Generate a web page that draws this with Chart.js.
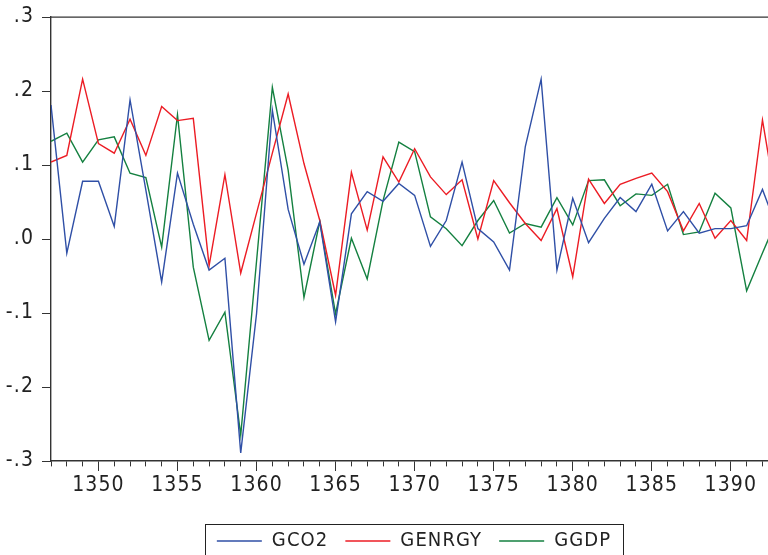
<!DOCTYPE html>
<html>
<head>
<meta charset="utf-8">
<script src="https://cdn.jsdelivr.net/npm/chart.js@4/dist/chart.umd.min.js"></script>
<style>
  body { margin: 0; background: #fff; }
  #wrap { width: 768px; height: 555px; position: relative; }
</style>
</head>
<body>
<div id="wrap"><canvas id="growth-canvas"></canvas></div>
<script>
    // Years on the x axis (solar hijri)
    let years = [];
    for (let y = 1347; y <= 1393; y++) years.push(y);

    // Growth rates
    let gco2 = [0.181, -0.019, 0.078, 0.078, 0.017, 0.188, 0.066, -0.058, 0.089, 0.020,
                -0.042, -0.026, -0.289, -0.101, 0.174, 0.040, -0.034, 0.023, -0.112, 0.034,
                0.064, 0.051, 0.075, 0.059, -0.010, 0.025, 0.104, 0.014, -0.004, -0.042,
                0.125, 0.216, -0.042, 0.055, -0.005, 0.028, 0.056, 0.037, 0.074, 0.011,
                0.037, 0.008, 0.014, 0.014, 0.018, 0.067, 0.010];
    let genrgy = [0.104, 0.113, 0.216, 0.129, 0.116, 0.162, 0.113, 0.179, 0.160, 0.163,
                  -0.036, 0.087, -0.046, 0.035, 0.116, 0.196, 0.102, 0.025, -0.076, 0.090,
                  0.012, 0.111, 0.077, 0.122, 0.084, 0.060, 0.080, 0.000, 0.079, 0.049,
                  0.021, -0.002, 0.041, -0.051, 0.081, 0.048, 0.074, 0.082, 0.089, 0.064,
                  0.011, 0.048, 0.001, 0.025, -0.002, 0.161, 0.033];
    let ggdp = [0.132, 0.143, 0.104, 0.134, 0.138, 0.089, 0.083, -0.011, 0.168, -0.038,
                -0.137, -0.099, -0.265, -0.030, 0.205, 0.093, -0.079, 0.024, -0.101, 0.001,
                -0.054, 0.052, 0.131, 0.118, 0.030, 0.014, -0.009, 0.025, 0.052, 0.008,
                0.021, 0.016, 0.056, 0.019, 0.079, 0.080, 0.045, 0.061, 0.059, 0.074,
                0.006, 0.0095, 0.062, 0.042, -0.070, -0.019, 0.031];

    let series_names = ['GCO2', 'GENRGY', 'GGDP'];
    let series_colors = ['#2f4fa6', '#ec1c24', '#148040'];

    // y tick labels, top to bottom (.3 ... -.3)
    let y_tick_labels = ['.3', '.2', '.1', '.0', '-.1', '-.2', '-.3'];

    let text_font = "'Liberation Sans Narrow', 'DejaVu Sans Condensed', 'Liberation Sans', sans-serif";
    let spacing = '1.1px';

    let to_points = function(vals) {
      return vals.map((v, i) => ({x: years[i], y: v}));
    };

    let all_series = [gco2, genrgy, ggdp];
    let datasets = all_series.map((vals, i) => ({
      label: series_names[i],
      data: to_points(vals),
      borderColor: series_colors[i],
      backgroundColor: series_colors[i],
      borderWidth: 1.4,
      pointRadius: 0,
      tension: 0,
      fill: false
    }));

    // letter spacing gets reset whenever the canvas is resized, so set it again
    let spacing_plugin = {
      id: 'spacing',
      beforeLayout(chart) { chart.ctx.letterSpacing = spacing; },
      beforeDraw(chart) { chart.ctx.letterSpacing = spacing; }
    };

    // legend sits centred under the plot area, with a box round it
    let frame_plugin = {
      id: 'frame',
      afterLayout(chart) {
        let lg = chart.legend;
        lg.left = chart.chartArea.left + 4;
        lg.right = chart.chartArea.right + 5;
      },
      afterDraw(chart) {
        let ctx = chart.ctx;
        let area = chart.chartArea;
        ctx.save();
        ctx.strokeStyle = '#333';
        ctx.lineWidth = 1.2;
        // top frame of the plot
        ctx.beginPath();
        ctx.moveTo(area.left, area.top);
        ctx.lineTo(area.right, area.top);
        ctx.stroke();
        // legend box
        let hb = chart.legend.legendHitBoxes;
        if (hb && hb.length) {
          let last = hb[hb.length - 1];
          let l = Math.round(hb[0].left - 12) + 0.5;
          let r = Math.round(last.left + last.width + 12) + 0.5;
          let t = Math.round(hb[0].top - 7) + 0.5;
          ctx.lineWidth = 1;
          ctx.strokeStyle = '#222';
          ctx.strokeRect(l, t, r - l, chart.height + 5 - t);
        }
        ctx.restore();
      }
    };

    let growth_chart = new Chart(document.getElementById('growth-canvas'), {
      type: 'line',
      data: { datasets: datasets },
      plugins: [spacing_plugin, frame_plugin],
      options: {
        responsive: true,
        maintainAspectRatio: false,
        animation: false,
        layout: { padding: { top: 14, right: 0, bottom: -6, left: 0 } },
        plugins: {
          tooltip: { enabled: false },
          legend: {
            position: 'bottom',
            labels: {
              boxWidth: 45,
              boxHeight: 1.3,
              padding: 17,
              color: '#222',
              font: { family: text_font, size: 20 },
              generateLabels(chart) {
                let items = Chart.defaults.plugins.legend.labels.generateLabels(chart);
                items.forEach(it => { it.lineWidth = 0; it.fillStyle = it.strokeStyle; });
                return items;
              }
            }
          }
        },
        scales: {
          x: {
            type: 'linear',
            min: 1347,
            max: 1392.35,
            afterFit(scale) { scale.height = 53; },
            border: { display: true, color: '#333', width: 1.4 },
            grid: {
              display: true,
              drawOnChartArea: false,
              drawTicks: true,
              tickLength: 10,
              tickColor: '#333',
              tickWidth: 1,
              tickBorderDash(ctx) {
                let v = ctx.tick ? ctx.tick.value : 0;
                return v % 5 === 0 ? [] : [5, 30];
              }
            },
            ticks: {
              stepSize: 1,
              includeBounds: false,
              autoSkip: false,
              maxRotation: 0,
              padding: 2,
              color: '#222',
              font: { family: text_font, size: 21 },
              callback(v) { return v % 5 === 0 ? String(v) : ''; }
            }
          },
          y: {
            min: -0.3,
            max: 0.3,
            afterFit(scale) { scale.width = 51; },
            border: { display: true, color: '#333', width: 1.4 },
            grid: {
              display: true,
              drawOnChartArea: false,
              tickLength: 9,
              tickColor: '#333'
            },
            ticks: {
              stepSize: 0.1,
              padding: 8,
              color: '#222',
              font: { family: text_font, size: 21, lineHeight: 0.86 },
              callback(v) {
                let idx = Math.round((0.3 - v) * 10);
                return y_tick_labels[idx];
              }
            }
          }
        }
      }
    });
</script>
</body>
</html>
